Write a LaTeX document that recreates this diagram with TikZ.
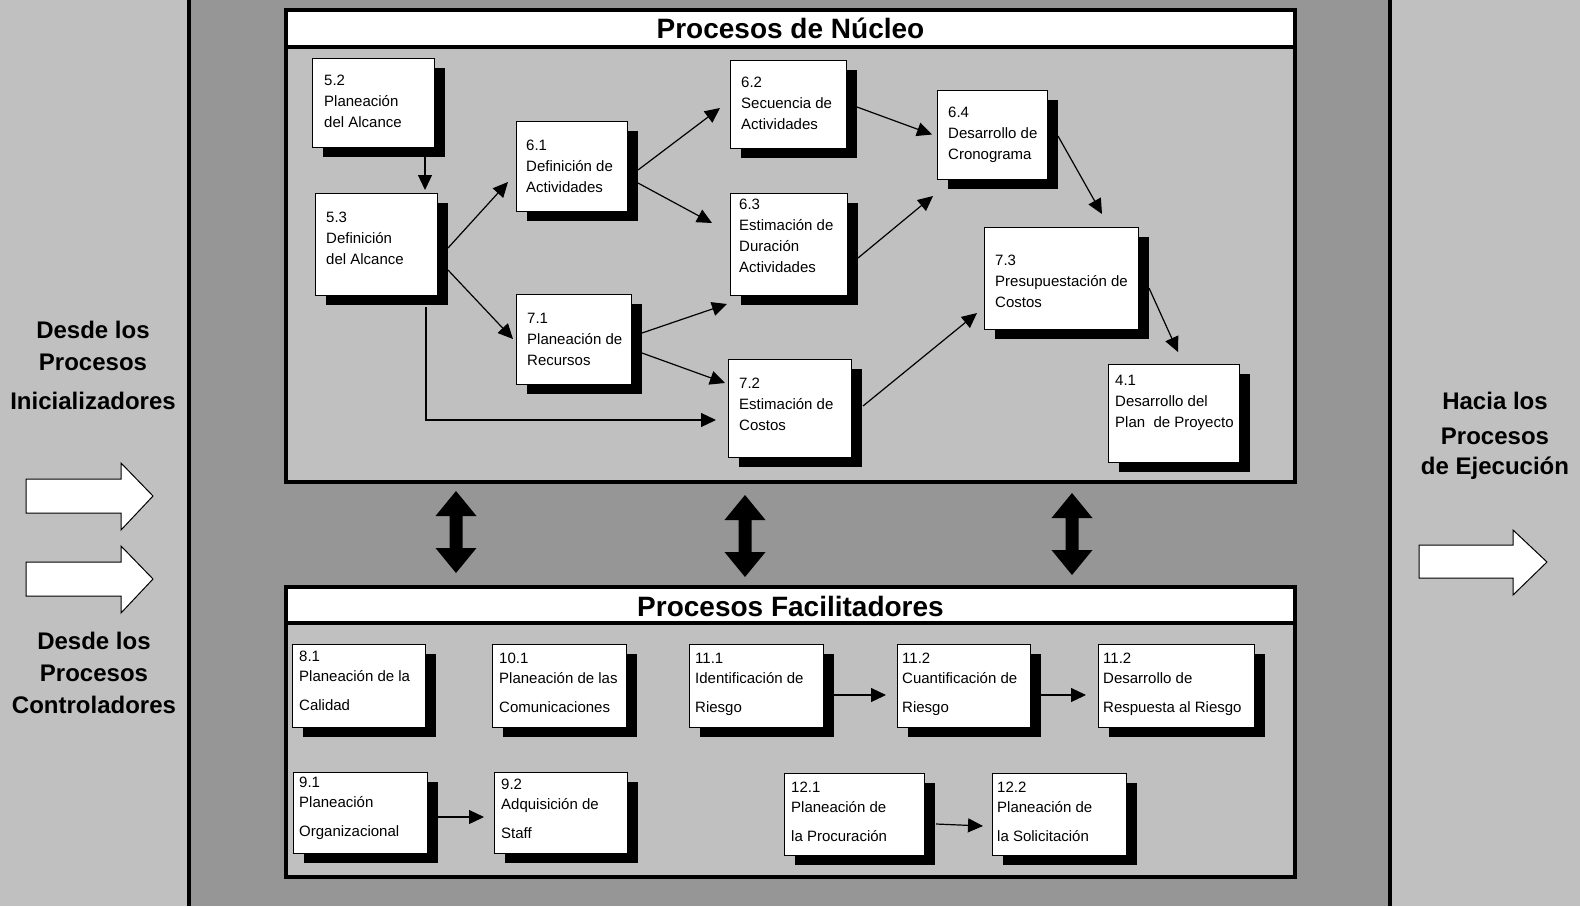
\documentclass[tikz,border=0pt]{standalone}
\usepackage{fontspec}
\setmainfont{Liberation Sans}
\usetikzlibrary{shadows,arrows.meta,calc}
\definecolor{lgray}{RGB}{192,192,192}
\definecolor{dgray}{RGB}{150,150,150}
\newcommand{\pbx}[6]{%
  \node[pbox, minimum width=#4pt, minimum height=#5pt] (#1) at (#2,#3) {};}
\newcommand{\vdarrow}[1]{%
  \fill (#1) -- ++(20.5,25) -- ++(-14,0) -- ++(0,32) -- ++(14,0) -- ++(-20.5,25)
   -- ++(-20.5,-25) -- ++(14,0) -- ++(0,-32) -- ++(-14,0) -- cycle;}
\begin{document}
\begin{tikzpicture}[x=1pt,y=-1pt,
  pbox/.style={draw=black, line width=1pt, fill=white, inner sep=0pt, outer sep=0pt,
    anchor=north west,
    drop shadow={shadow xshift=11pt,shadow yshift=-10pt,opacity=1,fill=black}},
  ptext/.style={anchor=north west, inner sep=0pt, align=left,
    font=\fontsize{15}{21}\selectfont},
  qtext/.style={anchor=north west, inner sep=0pt, align=left,
    font=\fontsize{15}{20}\selectfont},
  conn/.style={line width=1.2pt, -{Triangle[length=15pt,width=14pt]}},
  ttl/.style={anchor=base, inner sep=0pt, font=\fontsize{28}{32}\selectfont\bfseries},
  side/.style={anchor=north, inner sep=0pt, align=center,
    font=\fontsize{24}{32}\selectfont\bfseries},
  blockarrow/.style={fill=white, draw=black, line width=1pt, line join=miter}
]
\useasboundingbox (0,0) rectangle (1580,906);
% backgrounds
\fill[lgray] (0,0) rectangle (1580,906);
\fill[dgray] (189,0) rectangle (1390,906);
\draw[line width=4pt] (189,0) -- (189,906);
\draw[line width=4pt] (1390,0) -- (1390,906);

% panels
\filldraw[fill=lgray, line width=4pt] (286,9.5) rectangle (1295,482);
\filldraw[fill=white, line width=4pt] (286,9.5) rectangle (1295,46.5);
\node[ttl] (tnuc) at (790.5,38) {Procesos de Núcleo};

\filldraw[fill=lgray, line width=4pt] (286,586.5) rectangle (1295,877);
\filldraw[fill=white, line width=4pt] (286,586.5) rectangle (1295,623);
\node[ttl] (tfac) at (790.5,616) {Procesos Facilitadores};

% side labels
\node[side] (lab1) at (93,320.5) {Desde los\\Procesos\\[7pt]Inicializadores};
\node[side] (lab2) at (94,631.5) {Desde los\\Procesos\\Controladores};
\node[side] (lab3) at (1495,391.5) {Hacia los\\[3pt]Procesos\\[-2pt]de Ejecución};

% block arrows
\draw[blockarrow] (26,479) -- (121,479) -- (121,463) -- (153,496) -- (121,530) -- (121,513) -- (26,513) -- cycle;
\draw[blockarrow] (26,562) -- (121,562) -- (121,546) -- (153,579) -- (121,613) -- (121,596) -- (26,596) -- cycle;
\draw[blockarrow] (1419,545) -- (1513,545) -- (1513,530) -- (1547,562) -- (1513,595) -- (1513,578) -- (1419,578) -- cycle;

% double arrows between panels
\coordinate (da1) at (456,491);
\coordinate (da2) at (745,495);
\coordinate (da3) at (1072,493);
\vdarrow{da1}
\vdarrow{da2}
\vdarrow{da3}

% core process boxes
\pbx{n52}{312}{58}{122}{89}{}
\pbx{n53}{315}{193}{122}{102}{}
\pbx{n61}{516}{121}{111}{90}{}
\pbx{n62}{730}{60}{116}{88}{}
\pbx{n63}{730}{193}{117}{102}{}
\pbx{n64}{937}{90}{110}{89}{}
\pbx{n71}{516}{294}{115}{90}{}
\pbx{n72}{728}{359}{123}{98}{}
\pbx{n73}{984}{227}{154}{102}{}
\pbx{n41}{1108}{364}{131}{98}{}

\node[ptext] (n52t) at ([shift={(12,17)}]n52.north west) {5.2\\Planeación\\del Alcance};
\node[ptext] (n53t) at ([shift={(11,19)}]n53.north west) {5.3\\Definición\\del Alcance};
\node[ptext] (n61t) at ([shift={(10,19)}]n61.north west) {6.1\\Definición de\\Actividades};
\node[ptext] (n62t) at ([shift={(11,17)}]n62.north west) {6.2\\Secuencia de\\Actividades};
\node[ptext] (n63t) at ([shift={(9,6)}]n63.north west) {6.3\\Estimación de\\Duración\\Actividades};
\node[ptext] (n64t) at ([shift={(11,17)}]n64.north west) {6.4\\Desarrollo de\\Cronograma};
\node[ptext] (n71t) at ([shift={(11,19)}]n71.north west) {7.1\\Planeación de\\Recursos};
\node[ptext] (n72t) at ([shift={(11,19)}]n72.north west) {7.2\\Estimación de\\Costos};
\node[ptext] (n73t) at ([shift={(11,28)}]n73.north west) {7.3\\Presupuestación de\\Costos};
\node[ptext] (n41t) at ([shift={(7,11)}]n41.north west) {4.1\\Desarrollo del\\Plan\ \ de Proyecto};

% core connectors
\draw[conn] ($(n52.south)+(52,10)$) -- ($(n53.north)+(49,-3)$);
\draw[conn] ($(n53.east)+(11,4)$) -- ($(n61.west)+(-8,16)$);
\draw[conn] ($(n53.east)+(11,26)$) -- ($(n71.west)+(-3,0)$);
\draw[conn] ($(n53.south)+(50,12)$) |- ($(n72.west)+(-12,12)$);
\draw[conn] ($(n61.east)+(11,4)$) -- ($(n62.west)+(-10,4)$);
\draw[conn] ($(n61.east)+(11,17)$) -- ($(n63.west)+(-18,-21)$);
\draw[conn] ($(n71.east)+(11,-6)$) -- ($(n63.west)+(-3,60)$);
\draw[conn] ($(n71.east)+(11,14)$) -- ($(n72.west)+(-3,-25)$);
\draw[conn] ($(n62.east)+(11,3)$) -- ($(n64.west)+(-5,0)$);
\draw[conn] ($(n63.east)+(11,14)$) -- ($(n64.west)+(-4,61.5)$);
\draw[conn] ($(n64.east)+(11,1.5)$) -- ($(n73.north)+(41,-13)$);
\draw[conn] ($(n72.east)+(12,-2)$) -- ($(n73.west)+(-7,35)$);
\draw[conn] ($(n73.east)+(11,10)$) -- ($(n41.north)+(4.5,-12)$);

% facilitating process boxes
\pbx{n81}{292}{644}{133}{83}{}
\pbx{n101}{492}{644}{134}{83}{}
\pbx{n111}{689}{644}{134}{83}{}
\pbx{n112}{897}{644}{133}{83}{}
\pbx{n113}{1098}{644}{156}{83}{}
\pbx{n91}{293}{772}{134}{81}{}
\pbx{n92}{494}{772}{133}{81}{}
\pbx{n121}{784}{773}{140}{82}{}
\pbx{n122}{992}{773}{134}{82}{}

\node[qtext] (n81t) at ([shift={(7,7)}]n81.north west) {8.1\\Planeación de la\\[9pt]Calidad};
\node[qtext] (n101t) at ([shift={(7,9)}]n101.north west) {10.1\\Planeación de las\\[9pt]Comunicaciones};
\node[qtext] (n111t) at ([shift={(6,9)}]n111.north west) {11.1\\Identificación de\\[9pt]Riesgo};
\node[qtext] (n112t) at ([shift={(5,9)}]n112.north west) {11.2\\Cuantificación de\\[9pt]Riesgo};
\node[qtext] (n113t) at ([shift={(5,9)}]n113.north west) {11.2\\Desarrollo de\\[9pt]Respuesta al Riesgo};
\node[qtext] (n91t) at ([shift={(6,5)}]n91.north west) {9.1\\Planeación\\[9pt]Organizacional};
\node[qtext] (n92t) at ([shift={(7,7)}]n92.north west) {9.2\\Adquisición de\\[9pt]Staff};
\node[qtext] (n121t) at ([shift={(7,9)}]n121.north west) {12.1\\Planeación de\\[9pt]la Procuración};
\node[qtext] (n122t) at ([shift={(5,9)}]n122.north west) {12.2\\Planeación de\\[9pt]la Solicitación};

% facilitating connectors
\draw[conn] ($(n111.east)+(11,9.5)$) -- ($(n112.west)+(-11,9.5)$);
\draw[conn] ($(n112.east)+(11,9.5)$) -- ($(n113.west)+(-12,9.5)$);
\draw[conn] ($(n91.east)+(11,4.5)$) -- ($(n92.west)+(-10,4.5)$);
\draw[conn] ($(n121.east)+(12,10)$) -- ($(n122.west)+(-9,12)$);
\end{tikzpicture}
\end{document}
